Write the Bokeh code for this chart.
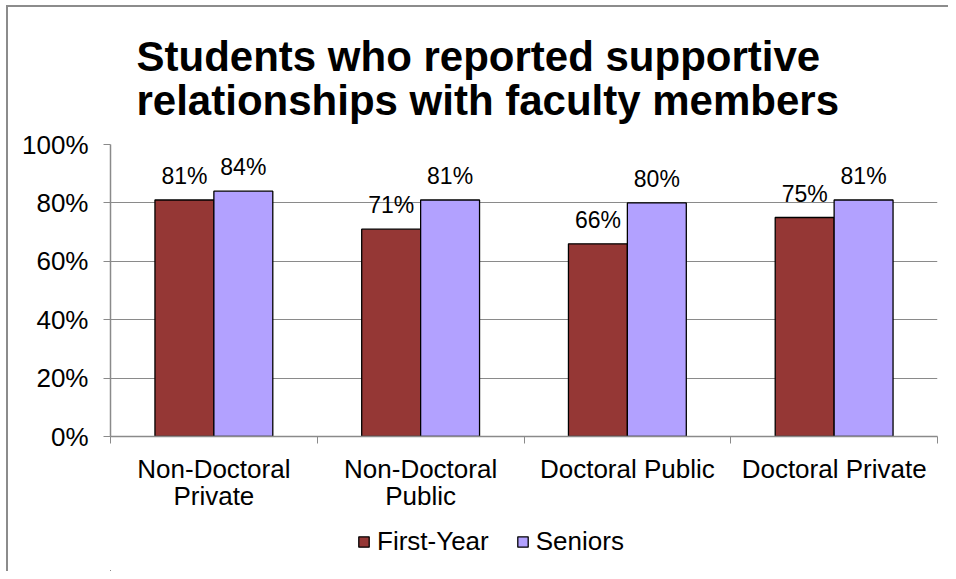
from bokeh.plotting import figure
from bokeh.layouts import column
from bokeh.models import (ColumnDataSource, FixedTicker, LabelSet, Legend, LegendItem,
                          Range1d, NumeralTickFormatter)
from bokeh.core.properties import value
from bokeh.embed import file_html
from bokeh.resources import INLINE

categories = ["Non-Doctoral\nPrivate", "Non-Doctoral\nPublic", "Doctoral Public", "Doctoral Private"]
first_year = [0.81, 0.71, 0.66, 0.75]
seniors = [0.84, 0.81, 0.80, 0.81]
y_ticks = [0, 0.2, 0.4, 0.6, 0.8, 1.0]
series_names = ["First-Year", "Seniors"]
title_text = "Students who reported supportive\nrelationships with faculty members"

FONT = "Liberation Sans"
RED = "#953735"
LAV = "#B2A1FF"
GRID = "#8a8a8a"

n = len(categories)
centers = [i + 0.5 for i in range(n)]
bw = 0.285
src = ColumnDataSource(dict(
    x1=[c - bw / 2 for c in centers],
    x2=[c + bw / 2 for c in centers],
    fy=first_year, sr=seniors,
    fyl=[f"{round(v*100)}%" for v in first_year],
    srl=[f"{round(v*100)}%" for v in seniors],
))

p = figure(width=940, height=517, output_backend="svg", toolbar_location=None,
           x_range=Range1d(0, n), y_range=Range1d(0, 1.0),
           min_border_left=102, min_border_right=11, min_border_top=137, min_border_bottom=88)

p.title.text = title_text
p.title.text_font = FONT
p.title.text_font_size = "42px"
p.title.text_font_style = "bold"
p.title.align = "left"
p.title.offset = 26
p.title.text_line_height = 0.94
p.title.text_color = "black"
p.title.standoff = 40

p.outline_line_color = None
p.xgrid.grid_line_color = None
p.ygrid.grid_line_color = GRID
p.ygrid.grid_line_width = 1

p.vbar(x="x1", top="fy", width=bw, bottom=0, source=src, fill_color=RED,
       line_color="black", line_width=1.3)
p.vbar(x="x2", top="sr", width=bw, bottom=0, source=src, fill_color=LAV,
       line_color="black", line_width=1.3)

for col, ys, lab in (("x1", "fy", "fyl"), ("x2", "sr", "srl")):
    p.add_layout(LabelSet(x=col, y=ys, text=lab, source=src, text_align="center",
                          text_baseline="bottom", y_offset=11, text_font=value(FONT),
                          text_font_size="23px", text_color="black"))

# x axis
p.xaxis.ticker = FixedTicker(ticks=centers, minor_ticks=list(range(n + 1)))
p.xaxis.major_label_overrides = {c: lab for c, lab in zip(centers, categories)}
p.xaxis.major_tick_out = 0
p.xaxis.major_tick_in = 0
p.xaxis.minor_tick_out = 7
p.xaxis.minor_tick_in = 0
p.xaxis.minor_tick_line_color = GRID
p.xaxis.axis_line_color = GRID
p.xaxis.axis_line_width = 1.5
p.xaxis.major_label_text_font = FONT
p.xaxis.major_label_text_font_size = "26px"
p.xaxis.major_label_text_line_height = 0.9
p.xaxis.major_label_text_color = "black"
p.xaxis.major_label_standoff = 10

# y axis
p.yaxis.ticker = FixedTicker(ticks=y_ticks)
p.yaxis.formatter = NumeralTickFormatter(format="0%")
p.yaxis.minor_tick_line_color = None
p.yaxis.major_tick_out = 7
p.yaxis.major_tick_in = 0
p.yaxis.major_tick_line_color = GRID
p.yaxis.axis_line_color = GRID
p.yaxis.axis_line_width = 1.5
p.yaxis.major_label_text_font = FONT
p.yaxis.major_label_text_font_size = "26px"
p.yaxis.major_label_text_color = "black"
p.yaxis.major_label_standoff = 15

# legend strip below the chart (its bars lie outside its visible x and y ranges)
lf = figure(width=940, height=47, output_backend="svg", toolbar_location=None,
            x_range=Range1d(10 * n, 11 * n), y_range=Range1d(2, 3),
            x_axis_location=None, y_axis_location=None,
            min_border_left=0, min_border_right=0, min_border_top=0, min_border_bottom=0)
lf.outline_line_color = None
lf.xgrid.grid_line_color = None
lf.ygrid.grid_line_color = None
items = []
for name, xcol, ycol, color in zip(series_names, ["x1", "x2"], ["fy", "sr"], [RED, LAV]):
    rr = lf.vbar(x=xcol, top=ycol, bottom=0, width=bw, source=src, fill_color=color,
                 line_color="black", line_width=1.3)
    items.append(LegendItem(label=name, renderers=[rr]))
legend = Legend(items=items, orientation="horizontal", location=(247, 14),
                glyph_width=13, glyph_height=13, label_text_font=FONT,
                label_text_font_size="26px", label_text_color="black",
                label_standoff=7, spacing=27,
                padding=0, margin=0, border_line_color=None, background_fill_alpha=0)
lf.add_layout(legend, "center")

layout = column(p, lf, spacing=0)
layout.margin = (5, 0, 0, 6)
layout.styles = {"border-left": "2px solid #8c8c8c", "border-top": "2px solid #8c8c8c"}

open("out.html", "w").write(file_html(layout, INLINE))
